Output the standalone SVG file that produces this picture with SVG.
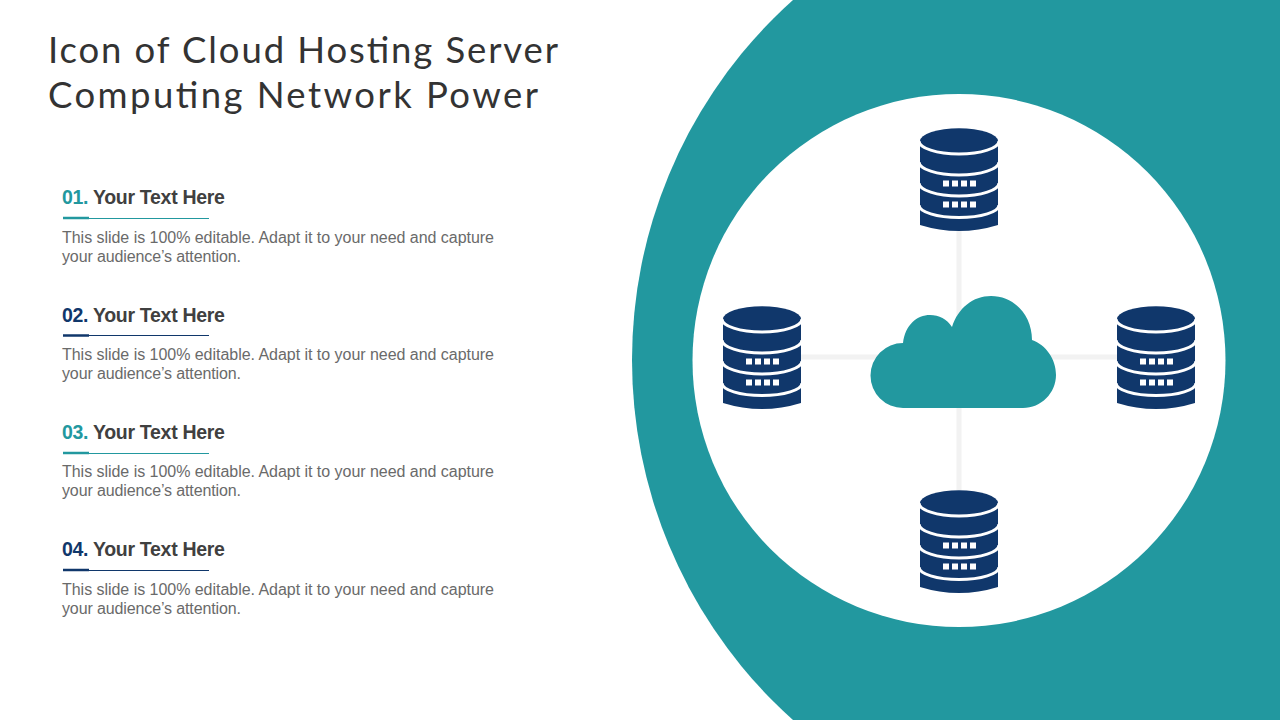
<svg xmlns="http://www.w3.org/2000/svg" width="1280" height="720" viewBox="0 0 1280 720">
<style>
.title{font:36.5px "Lato","Open Sans",sans-serif;fill:#333}
.h{font:bold 19.5px "Liberation Sans",Arial,sans-serif;fill:#404040;letter-spacing:-.3px}
.b{font:16px "Liberation Sans",Arial,sans-serif;fill:#6a6a6a}
.teal{fill:#22989f}.navy{fill:#10376b}
.link{stroke:#f2f2f2;stroke-width:5;fill:none}
.band{stroke:#fff;stroke-width:3;fill:none}
</style>
<defs>
<g id="server">
<path class="navy" d="M0 13A39 12.700 0 0 1 78 13V97Q39 109 0 97Z"/>
<path class="band" d="M-1 13A40 13 0 0 0 79 13M-1 34A40 13 0 0 0 79 34M-1 55A40 13 0 0 0 79 55M-1 77A40 12.500 0 0 0 79 77"/>
<g fill="#fff"><rect x="23" y="52.500" width="6" height="6"/><rect x="32" y="52.500" width="6" height="6"/><rect x="41" y="52.500" width="6" height="6"/><rect x="50" y="52.500" width="6" height="6"/><rect x="23" y="73.500" width="6" height="6"/><rect x="32" y="73.500" width="6" height="6"/><rect x="41" y="73.500" width="6" height="6"/><rect x="50" y="73.500" width="6" height="6"/></g>
</g>
</defs>
<rect width="1280" height="720" fill="#fff"/>
<circle class="teal" cx="1115" cy="360" r="483"/>
<circle cx="959" cy="360.500" r="266.500" fill="#fff"/>
<g id="connectors"><path class="link" d="M959 231V490M800 357H1117"/></g>
<g id="cloud"><path class="teal" d="M903 408A32.500 32.500 0 0 1 903 343C905 325 917 315 930 315C939 315 947 319 952 327C958 308 973 296 991 296C1014 296 1032 315 1032 340C1046 345 1056 359 1056 375C1056 393 1041 408 1023 408Z"/></g>
<g id="server-top"><use href="#server" x="920" y="128"/></g>
<g id="server-left"><use href="#server" x="723" y="306"/></g>
<g id="server-right"><use href="#server" x="1117" y="306"/></g>
<g id="server-bottom"><use href="#server" x="920" y="490"/></g>
<g id="title"><text class="title" x="48" y="63" textLength="510">Icon of Cloud Hosting Server</text><text class="title" x="48" y="108" textLength="490">Computing Network Power</text></g>
<g id="item-1"><text class="h" x="62" y="204"><tspan class="teal">01.</tspan> Your Text Here</text><path d="M63 218.500H209" stroke="#22989f" stroke-width="1"/><path d="M63 218H89" stroke="#22989f" stroke-width="2.500"/><text class="b" x="62" y="243" textLength="432">This slide is 100% editable. Adapt it to your need and capture</text><text class="b" x="62" y="262" textLength="179">your audience’s attention.</text></g>
<g id="item-2"><text class="h" x="62" y="322"><tspan class="navy">02.</tspan> Your Text Here</text><path d="M63 335.500H209" stroke="#10376b" stroke-width="1"/><path d="M63 335.500H89" stroke="#10376b" stroke-width="2.500"/><text class="b" x="62" y="360" textLength="432">This slide is 100% editable. Adapt it to your need and capture</text><text class="b" x="62" y="379" textLength="179">your audience’s attention.</text></g>
<g id="item-3"><text class="h" x="62" y="439"><tspan class="teal">03.</tspan> Your Text Here</text><path d="M63 453.500H209" stroke="#22989f" stroke-width="1"/><path d="M63 453H89" stroke="#22989f" stroke-width="2.500"/><text class="b" x="62" y="477" textLength="432">This slide is 100% editable. Adapt it to your need and capture</text><text class="b" x="62" y="496" textLength="179">your audience’s attention.</text></g>
<g id="item-4"><text class="h" x="62" y="556"><tspan class="navy">04.</tspan> Your Text Here</text><path d="M63 570.500H209" stroke="#10376b" stroke-width="1"/><path d="M63 570H89" stroke="#10376b" stroke-width="2.500"/><text class="b" x="62" y="595" textLength="432">This slide is 100% editable. Adapt it to your need and capture</text><text class="b" x="62" y="614" textLength="179">your audience’s attention.</text></g>
</svg>
